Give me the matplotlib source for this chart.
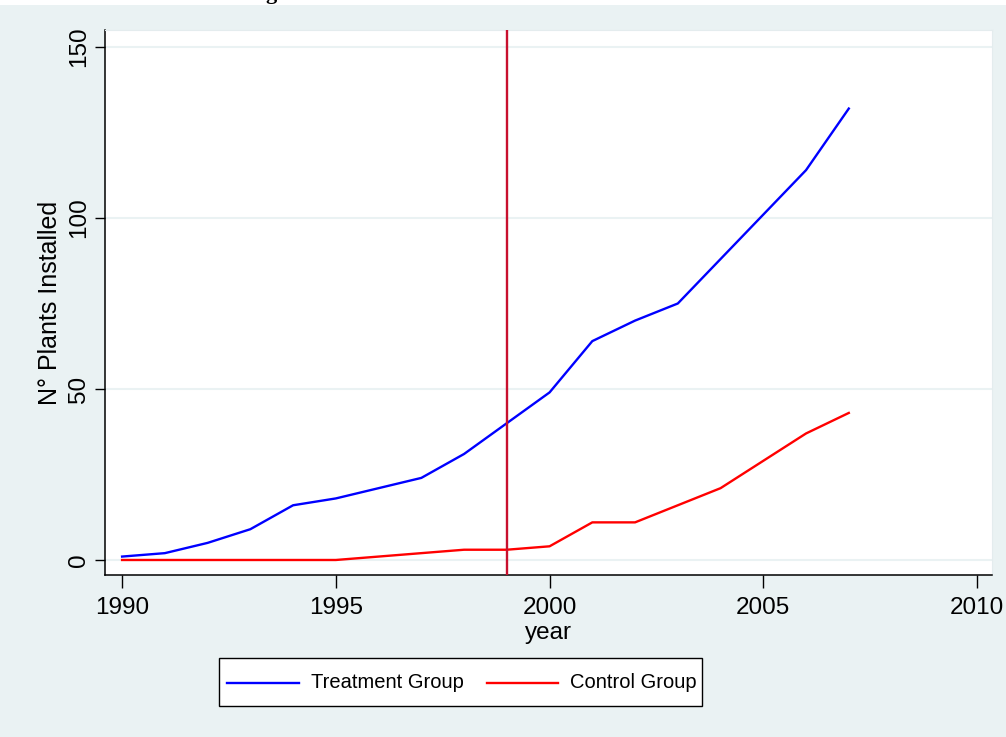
import matplotlib
matplotlib.use("Agg")
import matplotlib.pyplot as plt
from matplotlib.patches import Rectangle
from matplotlib.lines import Line2D

years = list(range(1990, 2008))
treatment = [1, 2, 5, 9, 16, 18, 21, 24, 31, 40, 49, 64, 70, 75, 88, 101, 114, 132]
control = [0, 0, 0, 0, 0, 0, 1, 2, 3, 3, 4, 11, 11, 16, 21, 29, 37, 43]
policy_year = 1999
xticks = [1990, 1995, 2000, 2005, 2010]
yticks = [0, 50, 100, 150]
series_labels = ["Treatment Group", "Control Group"]

BG = "#eaf2f3"
W, H = 1006, 737
plt.rcParams['font.family'] = ['Liberation Sans', 'DejaVu Sans']

fig = plt.figure(figsize=(W / 100, H / 100), dpi=100, facecolor=BG)
# white strip at the very top (page behind the graph)
fig.patches.append(Rectangle((0, 1 - 5 / H), 1, 5 / H, transform=fig.transFigure,
                             facecolor="white", edgecolor="none", zorder=0))
fig.text(271 / W, 1 + 1.5 / H, "g", fontsize=16, fontweight="bold",
         family=['Liberation Serif', 'DejaVu Serif'], ha="center", va="baseline")

ax = fig.add_axes([105 / W, 1 - 575 / H, (992 - 105) / W, (575 - 30) / H])
ax.set_facecolor("white")

ax.plot(years, treatment, color="#0000ff", lw=1.7, zorder=3, solid_joinstyle="round")
ax.plot(years, control, color="#ff0000", lw=1.7, zorder=3, solid_joinstyle="round")
ax.axvline(policy_year, color="#c8102e", lw=1.7, zorder=4)

ax.set_xlim(1989.60, 2010.35)
ax.set_ylim(-4.39, 154.97)
ax.set_xticks(xticks)
ax.set_yticks(yticks)
ax.set_xticklabels([str(t) for t in xticks], fontsize=17.5)
ax.set_yticklabels([str(t) for t in yticks], fontsize=17.5, rotation=90, va="center")
ax.tick_params(axis="x", length=9, width=1.0, pad=7, color="black")
ax.tick_params(axis="y", length=7, width=1.0, pad=4, color="black")
ax.grid(axis="y", color=BG, lw=1.5, zorder=1)
ax.set_axisbelow(True)

for s in ["left", "bottom"]:
    ax.spines[s].set_color("black")
    ax.spines[s].set_linewidth(1.1)
for s in ["top", "right"]:
    ax.spines[s].set_color("#e4ecee")
    ax.spines[s].set_linewidth(0.8)

ax.set_xlabel("year", fontsize=17.5, labelpad=2)
ax.set_ylabel("N° Plants Installed", fontsize=18, labelpad=4)

# legend box
lx0, lx1, ly0, ly1 = 219, 702, 658, 706
fig.patches.append(Rectangle((lx0 / W, 1 - ly1 / H), (lx1 - lx0) / W, (ly1 - ly0) / H,
                             transform=fig.transFigure, facecolor="white",
                             edgecolor="black", lw=1.0, zorder=1))
ymid = 1 - 683 / H
fig.lines.append(Line2D([227 / W, 299 / W], [ymid, ymid], transform=fig.transFigure,
                        color="#0000ff", lw=1.7, zorder=2))
fig.lines.append(Line2D([487 / W, 558 / W], [ymid, ymid], transform=fig.transFigure,
                        color="#ff0000", lw=1.7, zorder=2))
fig.text(311 / W, ymid, series_labels[0], fontsize=14.5, va="center", ha="left", zorder=3)
fig.text(570 / W, ymid, series_labels[1], fontsize=14.5, va="center", ha="left", zorder=3)

fig.savefig("out.png", dpi=100, facecolor=BG)
